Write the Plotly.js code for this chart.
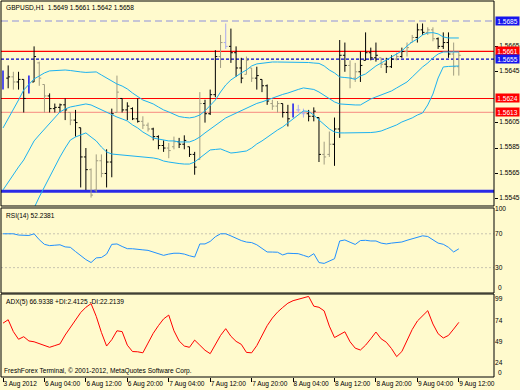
<!DOCTYPE html>
<html>
<head>
<meta charset="utf-8">
<script src="https://cdn.plot.ly/plotly-3.0.1.min.js"></script>
<style>html,body{margin:0;padding:0;background:#fffacd;}#chart{width:520px;height:390px;}</style>
</head>
<body>
<div id="chart"></div>
<script>
// ---------- DATA ----------
const symbol = 'GBPUSD,H1';
const tickIdx = [0, 8, 16, 24, 32, 40, 48, 56, 64, 72, 80, 88];
const tickLabels = ['3 Aug 2012', '6 Aug 04:00', '6 Aug 12:00', '6 Aug 20:00', '7 Aug 04:00', '7 Aug 12:00',
  '7 Aug 20:00', '8 Aug 04:00', '8 Aug 12:00', '8 Aug 20:00', '9 Aug 04:00', '9 Aug 12:00'];

const open = [1.5634,1.5640,1.5641,1.5637,1.5639,1.5630,1.5637,1.5652,1.5635,1.5626,
1.5616,1.5617,1.5619,1.5613,1.5607,1.5601,1.5578,1.5568,1.5552,1.5575,
1.5565,1.5574,1.5613,1.5624,1.5615,1.5616,1.5608,1.5606,1.5603,1.5600,
1.5594,1.5587,1.5585,1.5586,1.5590,1.5588,1.5586,1.5580,1.5576,1.5620,
1.5612,1.5627,1.5657,1.5668,1.5665,1.5660,1.5648,1.5643,1.5648,1.5640,
1.5639,1.5634,1.5620,1.5618,1.5620,1.5613,1.5612,1.5615,1.5612,1.5612,
1.5610,1.5609,1.5580,1.5580,1.5588,1.5600,1.5658,1.5650,1.5640,1.5645,
1.5654,1.5660,1.5656,1.5656,1.5651,1.5649,1.5655,1.5657,1.5661,1.5668,
1.5672,1.5678,1.5676,1.5678,1.5671,1.5665,1.5668,1.5659,1.5649];
const high = [1.5646,1.5650,1.5645,1.5645,1.5639,1.5642,1.5665,1.5653,1.5635,1.5628,
1.5620,1.5620,1.5624,1.5613,1.5615,1.5601,1.5585,1.5569,1.5580,1.5580,
1.5584,1.5616,1.5642,1.5624,1.5621,1.5617,1.5624,1.5610,1.5605,1.5601,
1.5595,1.5591,1.5589,1.5594,1.5593,1.5595,1.5586,1.5582,1.5629,1.5623,
1.5631,1.5662,1.5674,1.5683,1.5679,1.5665,1.5656,1.5657,1.5648,1.5649,
1.5639,1.5635,1.5623,1.5622,1.5620,1.5619,1.5620,1.5619,1.5616,1.5615,
1.5617,1.5609,1.5590,1.5598,1.5609,1.5670,1.5668,1.5654,1.5652,1.5661,
1.5676,1.5664,1.5668,1.5656,1.5656,1.5658,1.5660,1.5664,1.5668,1.5674,
1.5683,1.5683,1.5680,1.5680,1.5672,1.5676,1.5676,1.5668,1.5661];
const low = [1.5631,1.5632,1.5631,1.5631,1.5613,1.5628,1.5637,1.5634,1.5613,1.5613,
1.5613,1.5613,1.5607,1.5603,1.5594,1.5554,1.5552,1.5546,1.5550,1.5562,
1.5554,1.5562,1.5613,1.5613,1.5607,1.5607,1.5605,1.5600,1.5598,1.5591,
1.5584,1.5582,1.5577,1.5584,1.5585,1.5584,1.5578,1.5564,1.5576,1.5605,
1.5611,1.5625,1.5648,1.5663,1.5652,1.5641,1.5636,1.5643,1.5637,1.5631,
1.5629,1.5619,1.5615,1.5613,1.5609,1.5602,1.5609,1.5613,1.5609,1.5606,
1.5606,1.5574,1.5572,1.5578,1.5571,1.5593,1.5645,1.5632,1.5637,1.5637,
1.5654,1.5654,1.5653,1.5648,1.5644,1.5648,1.5654,1.5656,1.5657,1.5668,
1.5668,1.5674,1.5674,1.5669,1.5663,1.5663,1.5656,1.5642,1.5642];
const close = [1.5640,1.5641,1.5637,1.5639,1.5624,1.5635,1.5657,1.5640,1.5626,1.5616,
1.5617,1.5619,1.5615,1.5607,1.5605,1.5578,1.5568,1.5548,1.5575,1.5565,
1.5574,1.5612,1.5629,1.5615,1.5618,1.5608,1.5606,1.5603,1.5600,1.5594,
1.5587,1.5585,1.5583,1.5590,1.5588,1.5591,1.5580,1.5570,1.5620,1.5612,
1.5627,1.5657,1.5668,1.5665,1.5660,1.5648,1.5640,1.5654,1.5640,1.5642,
1.5634,1.5622,1.5618,1.5620,1.5613,1.5608,1.5612,1.5615,1.5612,1.5610,
1.5614,1.5580,1.5578,1.5588,1.5600,1.5658,1.5650,1.5640,1.5645,1.5650,
1.5660,1.5656,1.5658,1.5651,1.5649,1.5655,1.5657,1.5661,1.5664,1.5672,
1.5678,1.5676,1.5678,1.5671,1.5665,1.5668,1.5659,1.5649,1.5658];
// bar colour class: d = dark, g = grey, b = blue, l = lavender
const barColor = ['b','d','g','d','d','b','d','g','g','d',
'd','d','d','g','d','d','d','g','g','g',
'd','d','g','d','d','d','d','g','g','d',
'd','d','g','g','d','d','d','d','g','d',
'd','d','g','l','d','d','d','g','g','d',
'd','d','g','g','d','d','b','l','l','d',
'd','d','g','g','d','d','d','g','g','d',
'd','d','d','g','d','d','g','d','g','g',
'd','d','g','g','d','d','d','g','g'];

const upperBand = [1.56008,1.56079,1.56157,1.56228,1.56307,1.56354,1.56394,1.56417,1.56441,1.56457,
1.56460,1.56464,1.56464,1.56460,1.56457,1.56449,1.56445,1.56445,1.56449,1.56425,
1.56401,1.56378,1.56354,1.56338,1.56315,1.56283,1.56252,1.56228,1.56213,1.56197,
1.56173,1.56150,1.56134,1.56118,1.56098,1.56091,1.56087,1.56094,1.56110,1.56142,
1.56181,1.56228,1.56291,1.56346,1.56386,1.56417,1.56441,1.56464,1.56496,1.56512,
1.56519,1.56523,1.56527,1.56527,1.56527,1.56527,1.56527,1.56527,1.56527,1.56523,
1.56519,1.56516,1.56496,1.56464,1.56441,1.56409,1.56405,1.56401,1.56390,1.56417,
1.56433,1.56464,1.56496,1.56519,1.56543,1.56567,1.56590,1.56614,1.56653,1.56685,
1.56708,1.56740,1.56756,1.56758,1.56748,1.56724,1.56716,1.56716,1.56716];
const middleBand = [1.55520,1.55583,1.55638,1.55701,1.55756,1.55835,1.55906,1.55953,1.56000,1.56047,
1.56094,1.56134,1.56157,1.56173,1.56181,1.56189,1.56197,1.56189,1.56169,1.56150,
1.56134,1.56110,1.56094,1.56079,1.56063,1.56032,1.56008,1.55976,1.55953,1.55929,
1.55921,1.55913,1.55906,1.55906,1.55898,1.55898,1.55898,1.55913,1.55937,1.55969,
1.56000,1.56032,1.56063,1.56087,1.56106,1.56126,1.56142,1.56165,1.56185,1.56201,
1.56213,1.56228,1.56244,1.56260,1.56272,1.56283,1.56299,1.56311,1.56323,1.56319,
1.56311,1.56291,1.56264,1.56236,1.56213,1.56197,1.56193,1.56189,1.56189,1.56189,
1.56213,1.56236,1.56252,1.56268,1.56283,1.56299,1.56323,1.56346,1.56370,1.56409,
1.56449,1.56488,1.56519,1.56559,1.56590,1.56606,1.56606,1.56606,1.56606];
const lowerBand = [null,null,null,null,null,1.55268,1.55378,1.55465,1.55544,1.55630,
1.55709,1.55780,1.55850,1.55913,1.55937,1.55953,1.55969,1.55937,1.55906,1.55858,
1.55819,1.55803,1.55799,1.55795,1.55795,1.55791,1.55787,1.55784,1.55780,1.55772,
1.55764,1.55748,1.55740,1.55732,1.55728,1.55724,1.55724,1.55740,1.55772,1.55803,
1.55835,1.55839,1.55843,1.55827,1.55811,1.55815,1.55819,1.55827,1.55850,1.55882,
1.55906,1.55937,1.55965,1.55992,1.56016,1.56047,1.56079,1.56110,1.56142,1.56138,
1.56110,1.56071,1.56032,1.56000,1.55976,1.55969,1.55969,1.55969,1.55969,1.55969,
1.55969,1.55972,1.55976,1.55984,1.56000,1.56016,1.56032,1.56055,1.56071,1.56087,
1.56110,1.56126,1.56189,1.56275,1.56401,1.56488,1.56492,1.56496,1.56496];

const rsi = [70,70,70,68.5,68,68,70,63,57.5,56,
56.5,57,54.5,54,49,44,39.5,36,41.5,42,
46,57.5,58,55,52.4,52.3,52,51,50.4,48.5,
46.5,44.5,46,47,47,46,44,42.5,58,58,
61,66.5,70,70,67.5,64.5,62,60.2,59.6,57,
52.5,48.5,48.4,48.2,45,47,46.7,46.5,44.5,42.5,
46.5,36,35,37.5,40.5,61.5,62.7,60,57.4,62,
62.3,61.5,61.5,59,58,59,59.3,60.3,62.3,64.2,
66,67.6,66.8,63,59,57.6,54,48.5,52.2381];
const rsiLevels = [70, 30];

const adx = [66,70,56,47,50,45,44,42,40,37.5,
39.5,41.5,52,60.5,70,78.5,84.7,89,74,55,
39,46.5,57,56,40,32.5,32.2,31,42.5,54,
63,71,75.5,57,45,39,37.5,46,40,34,
30,41,51.5,59.5,50.5,44.5,41,31.5,31,39.5,
50.5,63,72,79,84.5,89.5,92.5,94.3,95.3,97.5,
86,84.7,80.5,62.5,49,52,55.8,44,36.5,34.3,
40,47.5,55.5,47.5,43.5,36,26.5,32.5,46.5,58.5,
68.5,74.5,80.7,65,53.5,48.5,51.5,59,66.9338];
const plusDI = 2.4125, minusDI = 22.2139;

// horizontal price lines: value, colour, dash, width, label box colour (null = no label)
const lineValues = [1.5685, 1.5661, 1.5655, 1.5624, 1.5613, 1.5551];
const lineColors = ['#b4b4d8', '#ff0000', '#0000d0', '#ff0000', '#f8a090', '#2a2ae6'];
const lineDashes = ['7px,4px', 'solid', '3px,2px', 'solid', 'solid', 'solid'];
const lineWidths = [1.5, 1.2, 1.2, 1.2, 1.2, 3];
const lineBoxes = ['#1515ee', '#ff0000', '#1515ee', '#ff0000', '#ff0000', null];
const priceTicks = [1.5665, 1.5645, 1.5605, 1.5585, 1.5565, 1.5545];
const rsiTicks = [100, 70, 30];
const adxTicks = [99, 74, 49, 24];

// ---------- BUILD ----------
const bars = open.map((_, i) => i);
const FONT = 'Liberation Sans, Arial, sans-serif';
const FS = 6.6;
const groupColors = {d: '#000000', g: '#a09c80', b: '#1818f0', l: '#a8a8f0'};
const groupWidths = {d: 1, g: 1, b: 1.5, l: 1};
const traces = [];

Object.keys(groupColors).forEach(k => {
  const idx = bars.filter(i => barColor[i] === k);
  if (!idx.length) return;
  let minD = Infinity;
  for (let j = 1; j < idx.length; j++) minD = Math.min(minD, idx[j] - idx[j - 1]);
  if (!isFinite(minD)) minD = 1;
  traces.push({
    type: 'ohlc', xaxis: 'x', yaxis: 'y',
    x: idx, open: idx.map(i => open[i]), high: idx.map(i => high[i]),
    low: idx.map(i => low[i]), close: idx.map(i => close[i]),
    increasing: {line: {color: groupColors[k], width: groupWidths[k]}},
    decreasing: {line: {color: groupColors[k], width: groupWidths[k]}},
    tickwidth: Math.min(0.5, 0.38 / minD), hoverinfo: 'skip'
  });
});

[upperBand, middleBand, lowerBand].forEach(b => traces.push({
  type: 'scatter', mode: 'lines', x: bars, y: b, xaxis: 'x', yaxis: 'y',
  line: {color: '#1cb2f0', width: 1}, hoverinfo: 'skip', connectgaps: false
}));

traces.push({type: 'scatter', mode: 'lines', x: bars, y: rsi, xaxis: 'x', yaxis: 'y2',
  line: {color: '#2090ff', width: 1}, hoverinfo: 'skip'});
traces.push({type: 'scatter', mode: 'lines', x: bars, y: adx, xaxis: 'x', yaxis: 'y3',
  line: {color: '#ff0000', width: 1}, hoverinfo: 'skip'});

const shapes = [];
lineValues.forEach((v, i) => shapes.push({
  type: 'line', xref: 'paper', x0: 0, x1: 1, yref: 'y', y0: v, y1: v, layer: 'below',
  line: {color: lineColors[i], width: lineWidths[i], dash: lineDashes[i]}
}));
rsiLevels.forEach(v => shapes.push({
  type: 'line', xref: 'paper', x0: 0, x1: 1, yref: 'y2', y0: v, y1: v, layer: 'below',
  line: {color: '#c8c4b0', width: 1, dash: '2px,2px'}
}));
['y', 'y2', 'y3'].forEach(a => shapes.push({
  type: 'rect', xref: 'paper', x0: 0, x1: 1, yref: a + ' domain', y0: 0, y1: 1,
  line: {color: '#000000', width: 1}, layer: 'above'
}));

const last = open.length - 1;
const f4 = v => v.toFixed(4);
const tf = {family: FONT, size: FS, color: '#000'};
const annotations = [
  {text: symbol + '  ' + [open[last], high[last], low[last], close[last]].map(f4).join(' '),
   xref: 'paper', x: 0, xanchor: 'left', xshift: 3, yref: 'paper', y: 1, yanchor: 'top', yshift: -1,
   showarrow: false, font: tf},
  {text: 'RSI(14) ' + rsi[last].toFixed(4),
   xref: 'paper', x: 0, xanchor: 'left', xshift: 3, yref: 'y2 domain', y: 1, yanchor: 'top', yshift: -2,
   showarrow: false, font: tf},
  {text: 'ADX(5) ' + adx[last].toFixed(4) + ' +DI:' + plusDI.toFixed(4) + ' -DI:' + minusDI.toFixed(4),
   xref: 'paper', x: 0, xanchor: 'left', xshift: 3, yref: 'y3 domain', y: 1, yanchor: 'top', yshift: -2,
   showarrow: false, font: tf},
  {text: 'FreshForex Terminal, \u00a9 2001-2012, MetaQuotes Software Corp.',
   xref: 'paper', x: 0, xanchor: 'left', xshift: 1, yref: 'y3 domain', y: 0, yanchor: 'bottom', yshift: 0,
   showarrow: false, font: tf},
  {text: '0', xref: 'paper', x: 1, xanchor: 'left', xshift: 2, yref: 'paper', y: 0.2234,
   yanchor: 'bottom', yshift: 0, showarrow: false, font: tf},
  {text: '0', xref: 'paper', x: 1, xanchor: 'left', xshift: 2, yref: 'paper', y: 0, yanchor: 'bottom', yshift: -1,
   showarrow: false, font: tf}
];
lineValues.forEach((v, i) => {
  if (!lineBoxes[i]) return;
  annotations.push({text: f4(v), xref: 'paper', x: 1, xanchor: 'left', xshift: 1,
    yref: 'y', y: v, yanchor: 'middle', showarrow: false, bgcolor: lineBoxes[i],
    width: 23, height: 8, borderpad: 0, align: 'center',
    font: {family: FONT, size: FS, color: '#ffffff'}});
});

const layout = {
  width: 520, height: 390,
  margin: {l: 1, r: 26, t: 1, b: 13},
  paper_bgcolor: '#fffacd', plot_bgcolor: '#fffacd',
  showlegend: false,
  xaxis: {domain: [0, 1], anchor: 'y3', range: [-0.386, 94.79], tickvals: tickIdx, ticktext: tickLabels,
    tickangle: 0, ticks: 'outside', ticklen: 4, tickcolor: '#000', ticklabelposition: 'outside right',
    ticklabelstandoff: 0, automargin: false,
    tickfont: tf, showgrid: false, zeroline: false, showline: false, rangeslider: {visible: false}},
  yaxis: {domain: [0.4548, 1], anchor: 'x', side: 'right', range: [1.55394, 1.57007],
    tickvals: priceTicks, tickformat: '.4f', ticks: 'outside', ticklen: 3, tickcolor: '#000',
    ticklabelshift: -1, tickfont: tf, showgrid: false, zeroline: false, automargin: false},
  yaxis2: {domain: [0.2234, 0.4495], anchor: 'x', side: 'right', range: [0, 100.5],
    tickvals: rsiTicks, ticks: '', tickfont: tf, showgrid: false, zeroline: false, automargin: false},
  yaxis3: {domain: [0, 0.2207], anchor: 'x', side: 'right', range: [2.48, 100.35],
    tickvals: adxTicks, ticks: '', ticklabelshift: 4, tickfont: tf, showgrid: false, zeroline: false,
    automargin: false},
  shapes: shapes,
  annotations: annotations
};

Plotly.newPlot('chart', traces, layout, {staticPlot: true, displayModeBar: false});
</script>
</body>
</html>
